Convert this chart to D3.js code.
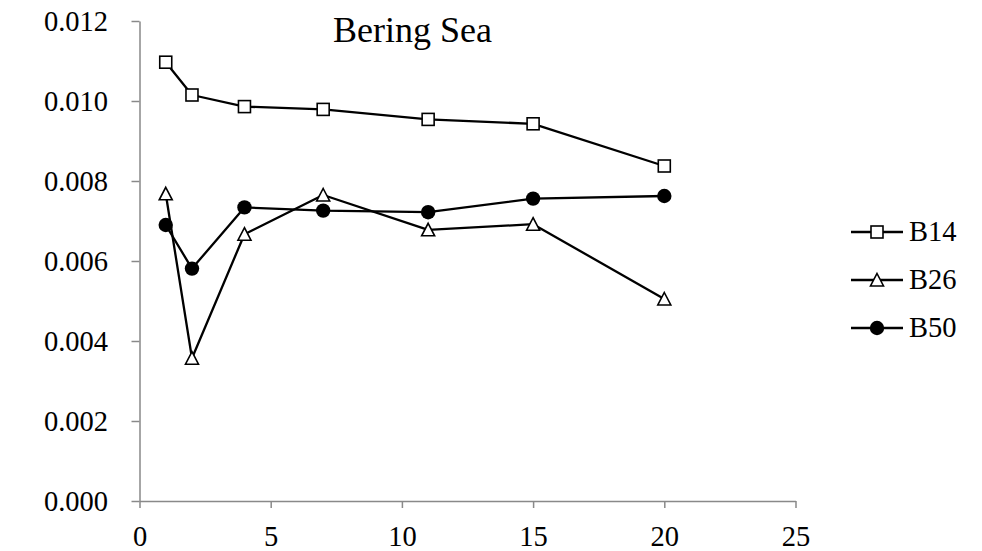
<!DOCTYPE html>
<html>
<head>
<meta charset="utf-8">
<script src="https://cdn.jsdelivr.net/npm/d3@7"></script>
<style>
  body { margin: 0; background: #fff; overflow: hidden; }
  text { font-family: "Times New Roman", "Liberation Serif", serif; fill: #000; }
</style>
</head>
<body>
<div id="chart"></div>
<script>
// data
var depth = [1, 2, 4, 7, 11, 15, 20];
var b14 = [0.01097, 0.01015, 0.00986, 0.00979, 0.00954, 0.00943, 0.008375];
var b26 = [0.00768, 0.00357, 0.00667, 0.00765, 0.00678, 0.00692, 0.00505];
var b50 = [0.0069, 0.00581, 0.00734, 0.00726, 0.00722, 0.00756, 0.007625];
var seriesNames = ["B14", "B26", "B50"];
var seriesMarkers = ["square", "triangle", "circle"];
var xTicks = [0, 5, 10, 15, 20, 25];
var yTicks = [0, 0.002, 0.004, 0.006, 0.008, 0.010, 0.012];
var title = "Bering Sea";

var W = 982, H = 551;
var plot = {left: 139.5, right: 795.5, top: 21, bottom: 501};
var axisColor = "#898989";

var svg = d3.select("#chart")
    .append("svg")
    .attr("width", W)
    .attr("height", H)
    .style("display", "block");

var x = d3.scaleLinear()
    .domain([0, 25])
    .range([plot.left, plot.right]);

var y = d3.scaleLinear()
    .domain([0, 0.012])
    .range([plot.bottom, plot.top]);

// axes
var xAxis = svg.append("g")
    .attr("transform", "translate(0," + plot.bottom + ")")
    .call(d3.axisBottom(x).tickValues(xTicks).tickSizeInner(7).tickSizeOuter(0).tickFormat(d3.format("d")));

var yAxis = svg.append("g")
    .attr("transform", "translate(" + plot.left + ",0)")
    .call(d3.axisLeft(y).tickValues(yTicks).tickSizeInner(8).tickSizeOuter(0).tickFormat(d3.format(".3f")));

[xAxis, yAxis].forEach(function (g) {
    g.select(".domain").attr("stroke", axisColor).attr("stroke-width", 1.5);
    g.selectAll(".tick line").attr("stroke", axisColor).attr("stroke-width", 1.5);
    g.selectAll(".tick text")
        .attr("font-size", 28.5)
        .attr("font-family", "'Times New Roman', 'Liberation Serif', serif")
        .attr("fill", "#000");
});
yAxis.selectAll(".tick text").attr("dy", "0.33em").attr("x", -31.5);
xAxis.selectAll(".tick text").attr("dy", 0).attr("y", 44.5);

// title
svg.append("text")
    .attr("x", 412.5)
    .attr("y", 41.5)
    .attr("text-anchor", "middle")
    .attr("font-size", 36)
    .text(title);

function drawMarker(g, kind, cx, cy) {
    if (kind === "square") {
        g.append("rect")
            .attr("x", cx - 6).attr("y", cy - 6)
            .attr("width", 12).attr("height", 12)
            .attr("fill", "#fff").attr("stroke", "#000").attr("stroke-width", 1.6);
    } else if (kind === "triangle") {
        g.append("path")
            .attr("d", "M" + cx + "," + (cy - 6.5) + "L" + (cx + 6.5) + "," + (cy + 6) + "L" + (cx - 6.5) + "," + (cy + 6) + "Z")
            .attr("fill", "#fff").attr("stroke", "#000").attr("stroke-width", 1.6)
            .attr("stroke-linejoin", "miter");
    } else {
        g.append("circle")
            .attr("cx", cx).attr("cy", cy).attr("r", 7.2)
            .attr("fill", "#000");
    }
}

var allSeries = [b14, b26, b50];
var line = d3.line()
    .x(function (d) { return x(d[0]); })
    .y(function (d) { return y(d[1]); });

allSeries.forEach(function (vals, s) {
    var pts = depth.map(function (d, i) { return [d, vals[i]]; });
    var g = svg.append("g");
    g.append("path")
        .datum(pts)
        .attr("d", line)
        .attr("fill", "none")
        .attr("stroke", "#000")
        .attr("stroke-width", 2.3)
        .attr("stroke-linejoin", "round");
    pts.forEach(function (p) {
        drawMarker(g, seriesMarkers[s], x(p[0]), y(p[1]));
    });
});

// legend
var legend = svg.append("g");
seriesNames.forEach(function (name, s) {
    var ly = 232 + s * 48;
    legend.append("line")
        .attr("x1", 851).attr("x2", 903)
        .attr("y1", ly).attr("y2", ly)
        .attr("stroke", "#000").attr("stroke-width", 2.3);
    drawMarker(legend, seriesMarkers[s], 877, ly);
    legend.append("text")
        .attr("x", 909)
        .attr("y", ly + 9)
        .attr("font-size", 28.5)
        .text(name);
});
</script>
</body>
</html>
